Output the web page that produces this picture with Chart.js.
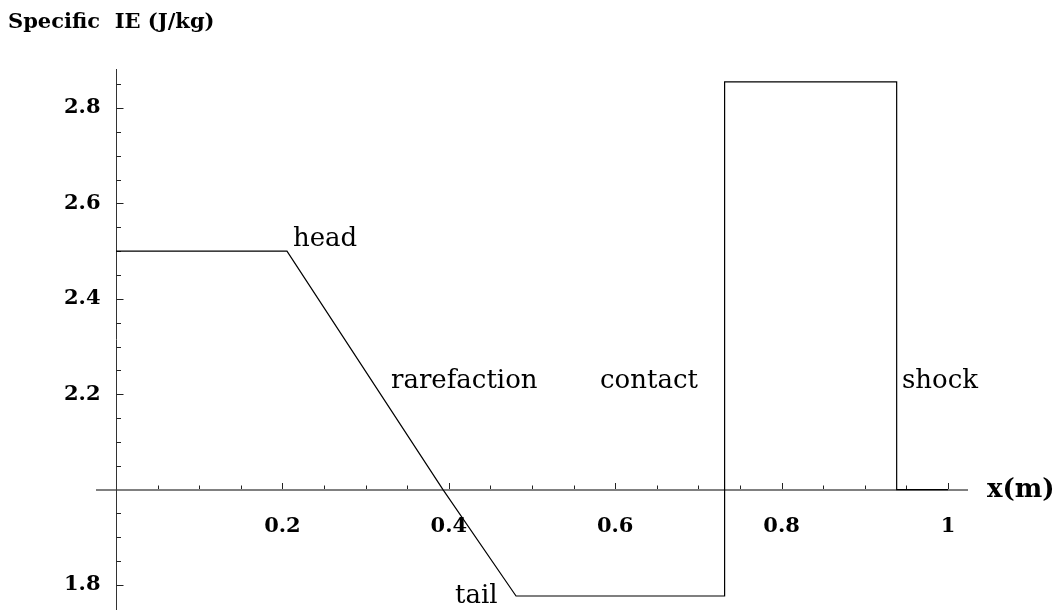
<!DOCTYPE html>
<html>
<head>
<meta charset="utf-8">
<script src="https://cdn.jsdelivr.net/npm/chart.js@4/dist/chart.umd.min.js"></script>
<style>
  html,body{margin:0;padding:0;background:#fff;}
  #wrap{width:1058px;height:610px;position:relative;}
</style>
</head>
<body>
<div id="wrap"><canvas id="cv"></canvas></div>
<script>
// Sod-type profile: specific internal energy along the tube
const xPos       = [0, 0.2055, 0.393, 0.4808, 0.7315, 0.7315, 0.9383, 0.9383, 1.0];
const specificIE = [2.5, 2.5, 2.0, 1.777, 1.777, 2.855, 2.855, 2.0, 2.0];

const xMajor = [0.2, 0.4, 0.6, 0.8, 1];
const xTickLabels = ['0.2', '0.4', '0.6', '0.8', '1'];
const yMajor = [1.8, 2.2, 2.4, 2.6, 2.8];
const yTickLabels = ['1.8', '2.2', '2.4', '2.6', '2.8'];

const regionNames = ['head', 'rarefaction', 'contact', 'shock', 'tail'];
const regionAt = [[0.2127, 2.511], [0.3305, 2.213], [0.5817, 2.213], [0.9447, 2.213], [0.4075, 1.7633]];

const SERIF = '"DejaVu Serif", "Liberation Serif", serif';

function isMajor(v, list){ return list.some(m => Math.abs(m - v) < 1e-6); }

// axes crossing at (0, 2) with inward ticks, drawn off the chart scales
const axesPlugin = {
  id: 'crossAxes',
  beforeDatasetsDraw(chart){
    const { ctx, chartArea: a, scales: { x, y } } = chart;
    const x0 = Math.round(x.getPixelForValue(0)) + 0.5;
    const y0 = Math.round(y.getPixelForValue(2));
    ctx.save();

    ctx.strokeStyle = '#808080'; ctx.lineWidth = 2;
    ctx.beginPath(); ctx.moveTo(a.left, y0); ctx.lineTo(a.right, y0); ctx.stroke();

    ctx.strokeStyle = '#333'; ctx.lineWidth = 1;
    ctx.beginPath(); ctx.moveTo(x0, a.top); ctx.lineTo(x0, a.bottom); ctx.stroke();

    // x ticks every 0.05
    ctx.strokeStyle = '#222';
    for (let i = 1; i <= 20; i++){
      const v = i * 0.05;
      const px = Math.round(x.getPixelForValue(v)) + 0.5;
      const len = isMajor(v, xMajor) ? 6 : 3.5;
      ctx.beginPath(); ctx.moveTo(px, y0 - 1); ctx.lineTo(px, y0 - 1 - len); ctx.stroke();
    }
    // y ticks every 0.05
    for (let i = 36; i <= 57; i++){
      const v = i * 0.05;
      if (Math.abs(v - 2) < 1e-6) continue;
      const py = Math.round(y.getPixelForValue(v)) + 0.5;
      const len = isMajor(v, yMajor) ? 7 : 4.5;
      ctx.beginPath(); ctx.moveTo(x0, py); ctx.lineTo(x0 + len, py); ctx.stroke();
    }

    ctx.fillStyle = '#000';
    ctx.font = 'bold 21px ' + SERIF;
    ctx.textAlign = 'center'; ctx.textBaseline = 'middle';
    xMajor.forEach((v, i) => ctx.fillText(xTickLabels[i], x.getPixelForValue(v), y0 + 37));
    ctx.textAlign = 'right';
    yMajor.forEach((v, i) => ctx.fillText(yTickLabels[i], x0 - 16, y.getPixelForValue(v)));

    ctx.restore();
  },
  afterDraw(chart){
    const { ctx, scales: { x, y } } = chart;
    ctx.save();
    ctx.fillStyle = '#000';
    ctx.textBaseline = 'alphabetic'; ctx.textAlign = 'left';

    ctx.font = '26px ' + SERIF;
    regionNames.forEach((t, i) => {
      ctx.fillText(t, x.getPixelForValue(regionAt[i][0]), y.getPixelForValue(regionAt[i][1]));
    });

    ctx.font = 'bold 21px ' + SERIF;
    ctx.fillText('Specific  IE (J/kg)', 8, 28);
    ctx.font = 'bold 26px ' + SERIF;
    ctx.textBaseline = 'middle';
    ctx.fillText('x(m)', 987, Math.round(y.getPixelForValue(2)));
    ctx.restore();
  }
};

new Chart(document.getElementById('cv'), {
  type: 'scatter',
  data: {
    datasets: [{
      data: xPos.map((v, i) => ({ x: v, y: specificIE[i] })),
      showLine: true,
      borderColor: '#000',
      borderWidth: 1.2,
      pointRadius: 0,
      tension: 0,
      clip: false
    }]
  },
  options: {
    responsive: true,
    maintainAspectRatio: false,
    animation: false,
    events: [],
    layout: { padding: { left: 96, right: 90, top: 69, bottom: 0 } },
    plugins: { legend: { display: false }, tooltip: { enabled: false } },
    scales: {
      x: { type: 'linear', display: false, min: -0.02404, max: 1.02404 },
      y: { type: 'linear', display: false, min: 1.7476, max: 2.8818 }
    }
  },
  plugins: [axesPlugin]
});
</script>
</body>
</html>
